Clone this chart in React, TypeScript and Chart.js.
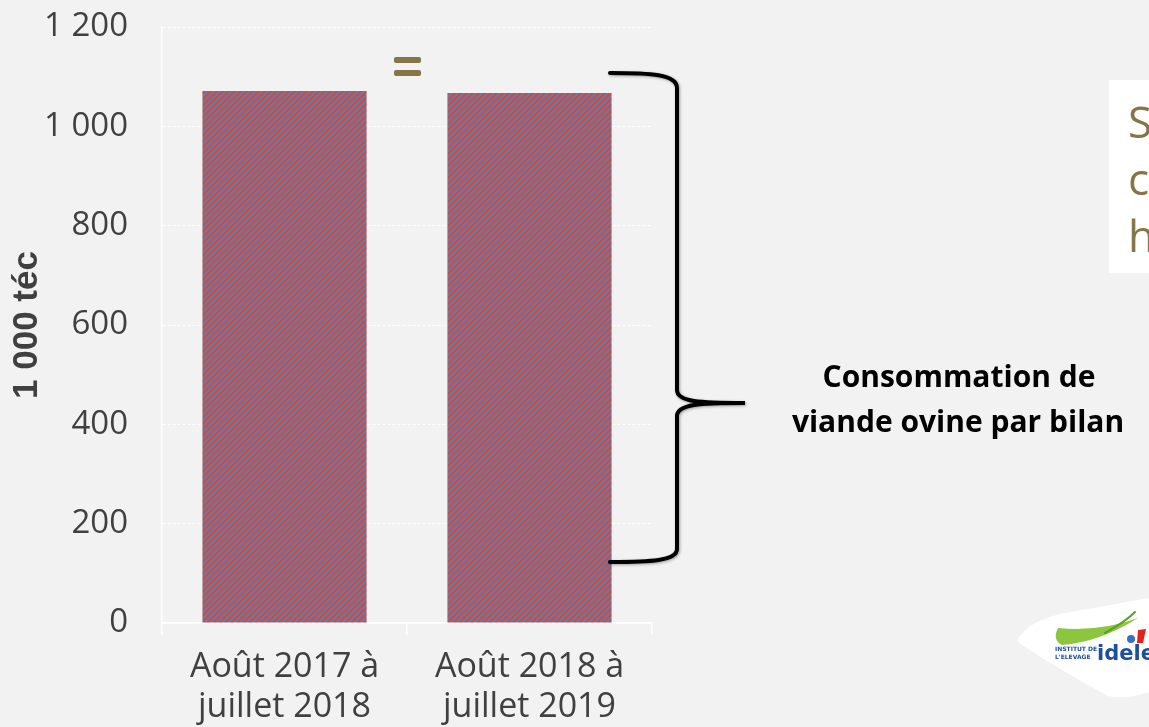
import React, { useEffect, useRef } from "react";
import { Chart, registerables } from "chart.js";

Chart.register(...registerables);

const categories: string[][] = [
  ["Août 2017 à", "juillet 2018"],
  ["Août 2018 à", "juillet 2019"],
];
const consumption: number[] = [1071, 1067];
const yMin = 0;
const yMax = 1200;
const yStep = 200;
const yTitle = "1 000 téc";
const braceLabel: string[] = ["Consommation de", "viande ovine par bilan"];
const sideLetters: string[] = ["S", "c", "h"];

const OLIVE = "#857548";
const TEXT = "#404040";

function fmt(v: number): string {
  if (v >= 1000) {
    return `${Math.floor(v / 1000)} ${String(v % 1000).padStart(3, "0")}`;
  }
  return String(v);
}

function makePattern(): CanvasPattern | string {
  const n = 6;
  const c = document.createElement("canvas");
  c.width = n;
  c.height = n;
  const g = c.getContext("2d");
  if (!g) return "#8a6a9a";
  for (let x = 0; x < n; x++) {
    for (let y = 0; y < n; y++) {
      g.fillStyle = (x + y) % n < 3 ? "#c0504d" : "#4f81bd";
      g.fillRect(x, y, 1, 1);
    }
  }
  const p = g.createPattern(c, "repeat");
  return p || "#8a6a9a";
}

function roundRect(ctx: CanvasRenderingContext2D, x: number, y: number, w: number, h: number, r: number) {
  ctx.beginPath();
  ctx.moveTo(x + r, y);
  ctx.lineTo(x + w - r, y);
  ctx.quadraticCurveTo(x + w, y, x + w, y + r);
  ctx.lineTo(x + w, y + h - r);
  ctx.quadraticCurveTo(x + w, y + h, x + w - r, y + h);
  ctx.lineTo(x + r, y + h);
  ctx.quadraticCurveTo(x, y + h, x, y + h - r);
  ctx.lineTo(x, y + r);
  ctx.quadraticCurveTo(x, y, x + r, y);
  ctx.fill();
}

const decorPlugin = {
  id: "decor",
  afterDraw(chart: any) {
    const ctx: CanvasRenderingContext2D = chart.ctx;
    ctx.save();

    // "=" sign between bars
    ctx.fillStyle = OLIVE;
    const xs = chart.scales.x;
    const midX = (xs.getPixelForValue(0) + xs.getPixelForValue(1)) / 2;
    roundRect(ctx, midX - 13, 57, 27, 6, 2);
    roundRect(ctx, midX - 13, 70, 27, 6, 2);

    // brace
    ctx.strokeStyle = "#000";
    ctx.lineWidth = 4;
    ctx.lineCap = "round";
    ctx.shadowColor = "rgba(0,0,0,0.35)";
    ctx.shadowBlur = 3;
    ctx.shadowOffsetX = 1;
    ctx.shadowOffsetY = 1;
    ctx.beginPath();
    ctx.moveTo(610, 73);
    ctx.bezierCurveTo(650, 73, 677, 74, 677, 88);
    ctx.lineTo(677, 390);
    ctx.bezierCurveTo(677, 402, 700, 403, 745, 403);
    ctx.bezierCurveTo(700, 403, 677, 404, 677, 416);
    ctx.lineTo(677, 549);
    ctx.bezierCurveTo(677, 561, 650, 562, 610, 562);
    ctx.stroke();
    ctx.shadowColor = "transparent";

    // brace label
    ctx.fillStyle = "#000";
    ctx.font = "bold 30px 'Open Sans'";
    ctx.textAlign = "center";
    ctx.textBaseline = "middle";
    ctx.fillText(braceLabel[0], 959, 378, 308);
    ctx.fillText(braceLabel[1], 958, 423, 370);

    // side white box
    ctx.fillStyle = "#ffffff";
    ctx.fillRect(1109, 80, 60, 193);
    ctx.fillStyle = OLIVE;
    ctx.font = "44px 'Open Sans'";
    ctx.textAlign = "left";
    ctx.textBaseline = "middle";
    sideLetters.forEach((s, i) => ctx.fillText(s, 1128, 125 + i * 57));

    // logo
    ctx.fillStyle = "#ffffff";
    ctx.beginPath();
    ctx.moveTo(1022, 634);
    ctx.quadraticCurveTo(1030, 622, 1060, 614);
    ctx.lineTo(1149, 598);
    ctx.lineTo(1149, 692);
    ctx.quadraticCurveTo(1125, 700, 1108, 696);
    ctx.quadraticCurveTo(1060, 670, 1022, 645);
    ctx.quadraticCurveTo(1014, 640, 1022, 634);
    ctx.fill();
    ctx.fillStyle = "#8cc63f";
    ctx.beginPath();
    ctx.moveTo(1058, 628);
    ctx.quadraticCurveTo(1100, 632, 1138, 618);
    ctx.quadraticCurveTo(1100, 642, 1062, 645);
    ctx.quadraticCurveTo(1052, 640, 1058, 628);
    ctx.fill();
    ctx.strokeStyle = "#5aa02c";
    ctx.lineWidth = 2;
    ctx.beginPath();
    ctx.moveTo(1105, 633);
    ctx.quadraticCurveTo(1125, 622, 1135, 612);
    ctx.stroke();
    ctx.fillStyle = "#3a6fc4";
    ctx.beginPath();
    ctx.arc(1131, 639, 4, 0, Math.PI * 2);
    ctx.fill();
    ctx.fillStyle = "#e2231a";
    ctx.beginPath();
    ctx.moveTo(1138, 630);
    ctx.lineTo(1146, 629);
    ctx.lineTo(1143, 643);
    ctx.lineTo(1137, 643);
    ctx.fill();
    ctx.fillStyle = "#1d4f9c";
    ctx.font = "bold 6px 'DejaVu Sans'";
    ctx.textAlign = "left";
    ctx.textBaseline = "alphabetic";
    ctx.fillText("INSTITUT DE", 1055, 651);
    ctx.fillText("L'ELEVAGE", 1055, 659);
    ctx.font = "bold 21px 'DejaVu Sans'";
    ctx.fillText("idele", 1097, 660);

    ctx.restore();
  },
};

export default function App() {
  const ref = useRef<HTMLCanvasElement | null>(null);

  useEffect(() => {
    if (!ref.current) return;
    const pattern = makePattern();
    const chart = new Chart(ref.current, {
      type: "bar",
      data: {
        labels: categories,
        datasets: [
          {
            data: consumption,
            backgroundColor: pattern as any,
            borderWidth: 0,
            categoryPercentage: 1,
            barPercentage: 0.67,
          },
        ],
      },
      options: {
        responsive: false,
        animation: false,
        devicePixelRatio: 1,
        layout: { padding: { top: 27, right: 497, left: 0, bottom: 0 } },
        plugins: {
          legend: { display: false },
          tooltip: { enabled: false },
        },
        scales: {
          x: {
            offset: true,
            grid: {
              display: true,
              drawOnChartArea: false,
              drawTicks: true,
              tickLength: 12,
              color: "#ffffff",
              lineWidth: 1.5,
            },
            border: { display: true, color: "#ffffff", width: 1.5 },
            ticks: {
              color: TEXT,
              font: { family: "'Open Sans'", size: 34, lineHeight: 1.18 },
              padding: 12,
              maxRotation: 0,
              minRotation: 0,
            },
            afterFit(scale: any) {
              scale.height = 104;
              scale.paddingLeft = 0;
              scale.paddingRight = 0;
            },
          },
          y: {
            min: yMin,
            max: yMax,
            ticks: {
              stepSize: yStep,
              color: TEXT,
              font: { family: "'Open Sans'", size: 33 },
              padding: 34,
              callback: (v: any) => fmt(Number(v)),
            },
            grid: {
              color: "#ffffff",
              drawTicks: false,
              tickLength: 0,
              lineWidth: 1,
            },
            border: { display: true, color: "#ffffff", width: 1.5, dash: [3, 2] },
            title: {
              display: true,
              text: yTitle,
              color: TEXT,
              font: { family: "'Liberation Sans'", size: 35, weight: "bold" },
              padding: { top: 6, bottom: 0 },
            },
            afterFit(scale: any) {
              scale.width = 162;
              scale.paddingTop = 0;
              scale.paddingBottom = 0;
            },
          },
        },
      },
      plugins: [decorPlugin],
    });
    return () => chart.destroy();
  }, []);

  return (
    <div
      style={{
        position: "fixed",
        left: 0,
        top: 0,
        width: 1149,
        height: 727,
        background: "#f2f2f2",
        overflow: "hidden",
      }}
    >
      <canvas
        ref={ref}
        width={1149}
        height={727}
        style={{ display: "block", width: 1149, height: 727 }}
      />
    </div>
  );
}
